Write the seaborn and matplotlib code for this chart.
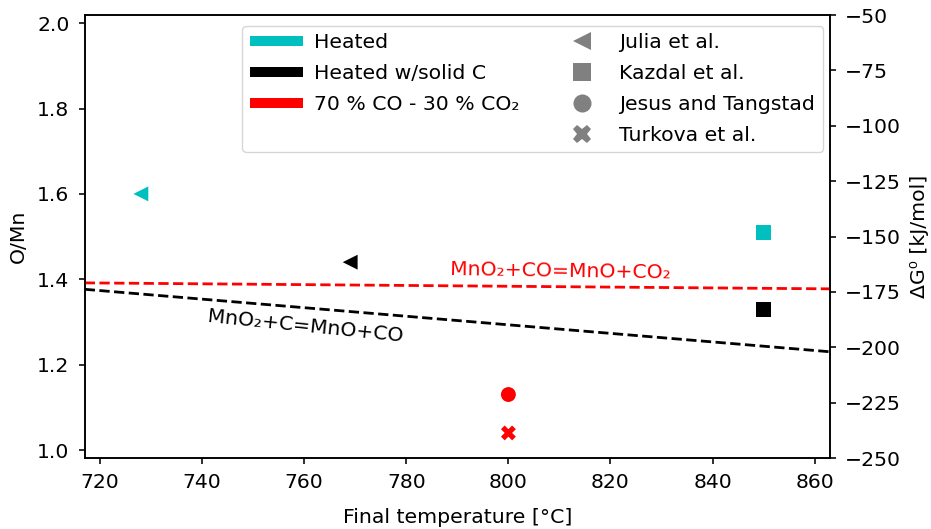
import numpy as np
import pandas as pd
import matplotlib
matplotlib.use("Agg")
import matplotlib.pyplot as plt
from matplotlib.lines import Line2D
import seaborn as sns

# Measured O/Mn after reduction, per study and condition
temperature = [728, 769, 850, 850, 800, 800]
o_mn = [1.60, 1.44, 1.51, 1.33, 1.13, 1.04]
condition = ["Heated", "Heated w/solid C", "Heated", "Heated w/solid C",
             "70 % CO - 30 % CO₂", "70 % CO - 30 % CO₂"]
source = ["Julia et al.", "Julia et al.", "Kazdal et al.", "Kazdal et al.",
          "Jesus and Tangstad", "Turkova et al."]

# Standard Gibbs energy of the two reduction reactions
t_line = [717, 863]
dg_co = [-170.9, -173.6]
dg_c = [-173.8, -202.0]

conditions = ["Heated", "Heated w/solid C", "70 % CO - 30 % CO₂"]
sources = ["Julia et al.", "Kazdal et al.", "Jesus and Tangstad", "Turkova et al."]
palette = {"Heated": "#00bfbf", "Heated w/solid C": "black", "70 % CO - 30 % CO₂": "red"}
marker_map = {"Julia et al.": "<", "Kazdal et al.": "s",
              "Jesus and Tangstad": "o", "Turkova et al.": "X"}

df = pd.DataFrame({"T": temperature, "OMn": o_mn, "cond": condition, "src": source})
lines = pd.DataFrame({
    "T": t_line * 2,
    "dG": dg_co + dg_c,
    "reaction": ["co"] * 2 + ["c"] * 2,
})

plt.rcParams.update({
    "font.size": 14.7,
    "font.family": ["DejaVu Sans"],
    "axes.linewidth": 1.15,
    "xtick.major.width": 1.15,
    "ytick.major.width": 1.15,
    "xtick.major.size": 4.5,
    "ytick.major.size": 4.5,
    "xtick.major.pad": 6.5,
    "ytick.major.pad": 6.5,
})

fig = plt.figure(figsize=(9.31, 5.29), dpi=100)
ax = fig.add_axes([0.091, 0.134, 0.8005, 0.8376])
ax2 = ax.twinx()

sns.lineplot(data=lines[lines.reaction == "co"], x="T", y="dG", ax=ax2,
             color="red", linestyle="--", linewidth=2, legend=False)
sns.lineplot(data=lines[lines.reaction == "c"], x="T", y="dG", ax=ax2,
             color="black", linestyle="--", linewidth=2, legend=False)
ax2.set_ylim(-250, -50)
ax2.set_ylabel("ΔG⁰ [kJ/mol]", labelpad=6.2)
ax2.text(810.2, -165.6, "MnO₂+CO=MnO+CO₂", color="red", ha="center",
         va="center", rotation=-0.9)
ax2.text(760.2, -190.6, "MnO₂+C=MnO+CO", color="black", ha="center",
         va="center", rotation=-5.8)

sns.scatterplot(data=df, x="T", y="OMn", hue="cond", style="src",
                palette=palette, markers=marker_map, s=115, linewidth=0,
                ax=ax, legend=False, zorder=3)
ax.set_xlim(717, 863)
ax.set_ylim(0.981, 2.019)
ax.set_xticks(np.arange(720, 861, 20))
ax.set_yticks([1.0, 1.2, 1.4, 1.6, 1.8, 2.0])
ax.set_xlabel("Final temperature [°C]", labelpad=11.5)
ax.set_ylabel("O/Mn", labelpad=6.5)

handles = [Line2D([], [], color=palette[c], lw=7.2, solid_capstyle="butt") for c in conditions]
labels = list(conditions)
handles.append(Line2D([], [], color="none"))
labels.append("")
for s in sources:
    handles.append(Line2D([], [], linestyle="none", marker=marker_map[s],
                          markersize=13, color="gray", markeredgewidth=0))
    labels.append(s)

leg = ax2.legend(handles, labels, ncol=2, loc="upper left",
                 bbox_to_anchor=(0.2117, 0.975), borderaxespad=0,
                 handlelength=2.6, handletextpad=0.52, columnspacing=1.8,
                 labelspacing=0.58, framealpha=0.8, borderpad=0.36)

fig.savefig("out.png", dpi=100)
